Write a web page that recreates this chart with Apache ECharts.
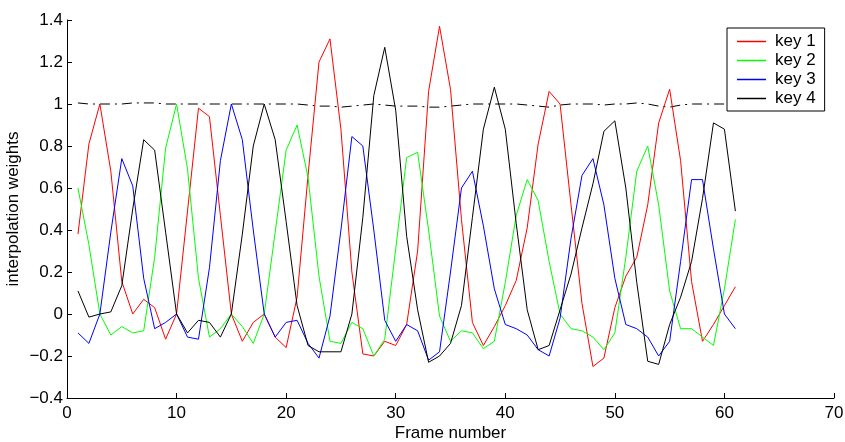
<!DOCTYPE html>
<html>
<head>
<meta charset="utf-8">
<script src="https://cdn.jsdelivr.net/npm/echarts@6/dist/echarts.min.js"></script>
<style>
html,body{margin:0;padding:0;background:#fff;}
#chart{width:845px;height:442px;}
</style>
</head>
<body>
<div id="chart"></div>
<script>
const frames = [1,2,3,4,5,6,7,8,9,10,11,12,13,14,15,16,17,18,19,20,21,22,23,24,25,26,27,28,29,30,31,32,33,34,35,36,37,38,39,40,41,42,43,44,45,46,47,48,49,50,51,52,53,54,55,56,57,58,59,60,61];

const key1 = [0.38,0.81,1.00,0.68,0.155,0.00,0.07,0.03,-0.12,0.00,
              0.49,0.98,0.94,0.47,0.00,-0.13,-0.04,0.00,-0.11,-0.16,
              0.08,0.66,1.20,1.31,0.88,0.20,-0.19,-0.20,-0.13,-0.15,
              -0.05,0.30,1.06,1.37,1.07,0.45,-0.04,-0.15,-0.06,0.04,
              0.16,0.41,0.81,1.06,1.00,0.52,0.05,-0.25,-0.21,0.03,
              0.18,0.27,0.52,0.91,1.07,0.73,0.155,-0.13,-0.05,0.04,
              0.13];

const key2 = [0.60,0.33,0.00,-0.10,-0.06,-0.09,-0.08,0.27,0.79,1.00,
              0.69,0.17,-0.11,-0.07,0.00,-0.06,-0.14,0.00,0.39,0.78,
              0.90,0.65,0.18,-0.13,-0.14,-0.04,-0.07,-0.20,-0.12,0.31,
              0.745,0.77,0.40,-0.01,-0.13,-0.08,-0.09,-0.165,-0.13,0.15,
              0.47,0.64,0.54,0.25,0.00,-0.07,-0.08,-0.11,-0.17,-0.09,
              0.27,0.68,0.80,0.52,0.11,-0.07,-0.07,-0.11,-0.15,0.12,
              0.45];

const key3 = [-0.09,-0.14,0.00,0.39,0.74,0.61,0.17,-0.07,-0.04,0.00,
              -0.11,-0.12,0.22,0.73,1.00,0.83,0.40,0.00,-0.11,-0.04,
              -0.03,-0.14,-0.21,-0.01,0.40,0.845,0.80,0.40,-0.03,-0.13,
              -0.05,-0.08,-0.22,-0.18,0.20,0.60,0.68,0.42,0.12,-0.05,
              -0.07,-0.10,-0.17,-0.20,-0.02,0.36,0.66,0.74,0.52,0.17,
              -0.05,-0.07,-0.11,-0.20,-0.13,0.25,0.64,0.64,0.31,0.00,
              -0.07];

const key4 = [0.11,-0.015,0.00,0.01,0.135,0.50,0.83,0.78,0.39,0.00,
              -0.09,-0.03,-0.04,-0.11,0.00,0.38,0.80,1.00,0.83,0.44,
              0.04,-0.15,-0.18,-0.18,-0.18,0.00,0.46,1.04,1.27,0.97,
              0.37,0.02,-0.23,-0.20,-0.14,0.04,0.46,0.88,1.08,0.88,
              0.43,0.02,-0.17,-0.15,0.02,0.19,0.41,0.62,0.87,0.92,
              0.60,0.15,-0.225,-0.24,-0.05,0.08,0.25,0.55,0.91,0.88,
              0.49];

const total = [1.005,1.0,1.0,1.0,1.0,1.005,1.005,1.005,1.0,1.0,
               1.0,1.0,1.0,1.0,1.0,1.0,1.0,1.0,1.0,1.0,
               1.0,0.995,0.99,0.99,0.985,0.99,0.995,1.0,0.995,0.99,
               0.99,0.99,0.985,0.985,0.99,0.995,1.0,1.0,1.0,1.0,
               1.0,0.995,0.99,0.985,0.995,1.0,1.0,1.0,0.995,1.0,
               1.0,1.005,1.0,0.99,0.985,0.995,1.0,1.0,1.0,1.0,
               1.0];

const seriesNames = ['key 1','key 2','key 3','key 4'];
const seriesColors = ['#ff0000','#00ff00','#0000ff','#000000'];
const seriesValues = [key1,key2,key3,key4];

const xTicks = {min:0, max:70, interval:10};
const yTicks = {min:-0.4, max:1.4, interval:0.2};

const FONT = 'Liberation Sans, Arial, Helvetica, sans-serif';
const pairs = vals => frames.map((f,i) => [f, vals[i]]);

const series = seriesNames.map((n,i) => ({
  name: n, type: 'line', data: pairs(seriesValues[i]),
  symbol: 'none', showSymbol: false, silent: true,
  lineStyle: {color: seriesColors[i], width: 1},
  itemStyle: {color: seriesColors[i]},
  z: 3
}));
series.push({
  name: 'sum', type: 'line', data: pairs(total),
  symbol: 'none', showSymbol: false, silent: true,
  lineStyle: {color: '#000', width: 1, type: [10,5,2,5]},
  itemStyle: {color: '#000'},
  z: 2
});

const chart = echarts.init(document.getElementById('chart'), null, {renderer: 'canvas'});
chart.setOption({
  animation: false,
  backgroundColor: '#fff',
  textStyle: {fontFamily: FONT},
  grid: {left: 67, right: 11, top: 20, bottom: 44, containLabel: false, outerBoundsMode: 'none'},
  legend: {
    data: seriesNames.map(n => ({name: n, icon: 'rect'})),
    orient: 'vertical', left: 727, top: 28,
    padding: [5, 9, 4, 10], itemWidth: 29, itemHeight: 1.5, itemGap: 2,
    borderColor: '#000', borderWidth: 1, backgroundColor: '#fff',
    textStyle: {fontSize: 17, color: '#000', fontFamily: FONT, padding: [0, 0, 0, 4]},
    selectedMode: false, z: 10
  },
  xAxis: {
    type: 'value', min: xTicks.min, max: xTicks.max, interval: xTicks.interval,
    name: 'Frame number', nameLocation: 'middle', nameGap: 27, nameMoveOverlap: false,
    nameTextStyle: {fontSize: 17, color: '#000', fontFamily: FONT},
    axisLine: {show: true, onZero: false, lineStyle: {color: '#000', width: 1}},
    axisTick: {show: true, inside: true, length: 5, lineStyle: {color: '#000'}},
    axisLabel: {fontSize: 17, color: '#000', margin: 7, fontFamily: FONT},
    splitLine: {show: false}
  },
  yAxis: {
    type: 'value', min: yTicks.min, max: yTicks.max, interval: yTicks.interval,
    name: 'interpolation weights', nameLocation: 'middle', nameGap: 45, nameMoveOverlap: false,
    nameTextStyle: {fontSize: 17, color: '#000', fontFamily: FONT},
    axisLine: {show: true, onZero: false, lineStyle: {color: '#000', width: 1}},
    axisTick: {show: true, inside: true, length: 5, lineStyle: {color: '#000'}},
    axisLabel: {
      fontSize: 17, color: '#000', margin: 4, fontFamily: FONT,
      formatter: v => {
        const r = Math.round(v * 10) / 10;
        if (r === 0) return '0';
        return String(r).replace('-', '\u2212');
      }
    },
    splitLine: {show: false}
  },
  series: series
});
</script>
</body>
</html>
